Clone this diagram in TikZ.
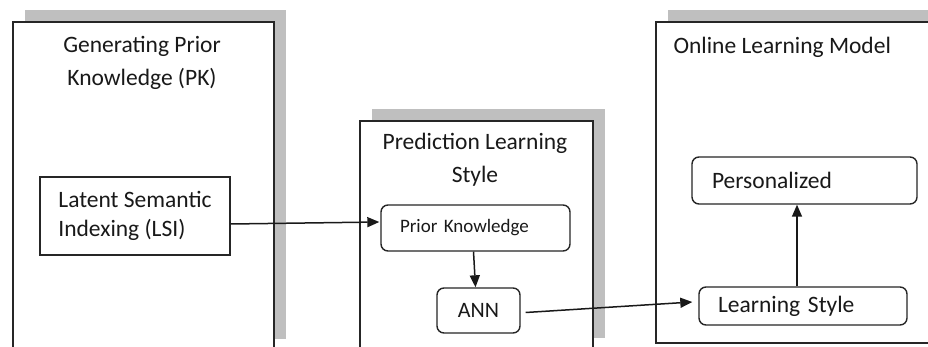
\documentclass[tikz,border=0pt]{standalone}
\usepackage{fontspec}
\setmainfont{Carlito}
\usetikzlibrary{positioning, arrows.meta, shadows}

\begin{document}
\begin{tikzpicture}[
    x=1pt, y=-1pt,
    >={Triangle[length=12pt, width=10pt]},
    panel/.style={draw=black!85, line width=1.6pt, fill=white, anchor=north west, inner sep=0pt,
        drop shadow={shadow xshift=12pt, shadow yshift=12pt, fill=black!25, opacity=1}},
    titletext/.style={font=\fontsize{23.5}{33}\selectfont, text=black!90, align=center},
    squarebox/.style={draw=black!85, line width=1.4pt, fill=white, align=left, text=black!90,
        font=\fontsize{23.5}{29}\selectfont},
    roundbox/.style={draw=black!85, line width=1.4pt, rounded corners=7pt, fill=white, text=black!90,
        font=\fontsize{23.5}{28}\selectfont},
    link/.style={->, draw=black!90, line width=1.5pt},
]

\useasboundingbox (0,0) rectangle (928,347);
\clip (0,0) rectangle (928,347);

% === Panels (with grey drop shadows) ===
\node[panel, minimum width=261, minimum height=329] (pkpanel) at (12,21) {};
\node[panel, minimum width=233, minimum height=229] (predpanel) at (359,120) {};
\node[panel, minimum width=300, minimum height=321] (onlinepanel) at (655,21) {};

% === Panel titles ===
\node[titletext] (pktitle) at (142,63) {Generating Prior\\Knowledge (PK)};
\node[titletext] (predtitle) at (475,160) {Prediction Learning\\Style};
\node[titletext, anchor=west] (onlinetitle) at (670,47) {Online Learning Model};

% === Boxes ===
\node[squarebox, minimum width=190, minimum height=78] (lsi) at (135,216) {Latent Semantic\\Indexing (LSI)};
\node[roundbox, font=\fontsize{19}{23}\selectfont, align=left, text width=151, inner xsep=19,
    minimum height=46] (prior) at (475.5,228) {Prior Knowledge};
\node[roundbox, font=\fontsize{22}{26}\selectfont, minimum width=83, minimum height=45] (ann) at (478.5,310.5) {ANN};
\node[roundbox, align=left, text width=185, inner xsep=20, minimum height=47] (pers) at (804.5,180.5) {Personalized};
\node[roundbox, align=left, text width=170, inner xsep=19, minimum height=38] (lstyle) at (803,306) {Learning Style};

% === Connectors ===
\draw[link] ([yshift=-8pt]lsi.east) -- ([xshift=-1pt, yshift=6pt]prior.west);
\draw[link] ([xshift=-2pt]prior.south) -- ([xshift=-3pt]ann.north);
\draw[link] ([xshift=5pt, yshift=-2pt]ann.east) -- ([xshift=-6pt, yshift=4pt]lstyle.west);
\draw[link] ([xshift=-6pt]lstyle.north) -- ([xshift=-6pt]lstyle.north |- pers.south);

\end{tikzpicture}
\end{document}
